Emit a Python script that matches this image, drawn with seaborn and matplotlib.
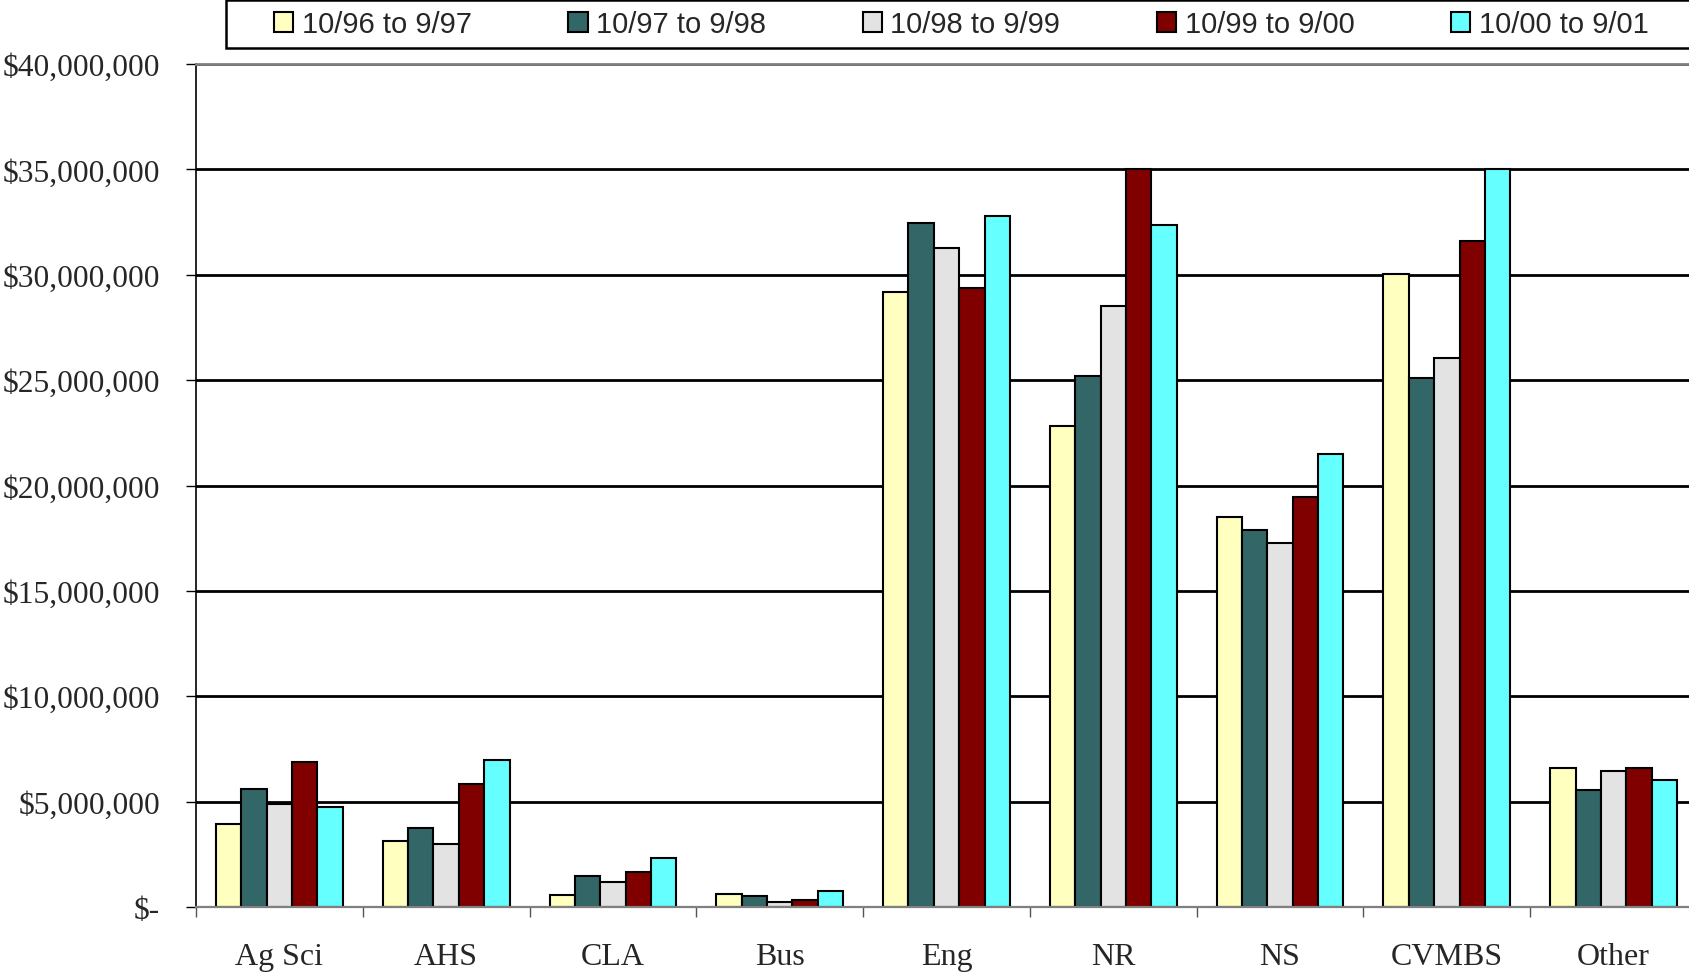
import seaborn as sns
import matplotlib.pyplot as plt
import matplotlib.ticker as mticker
from matplotlib.patches import Rectangle
import numpy as np
import pandas as pd

# colleges and fiscal periods
colleges = ['Ag Sci', 'AHS', 'CLA', 'Bus', 'Eng', 'NR', 'NS', 'CVMBS', 'Other']
periods = ['10/96 to 9/97', '10/97 to 9/98', '10/98 to 9/99', '10/99 to 9/00', '10/00 to 9/01']

# expenditures in millions
fy97 = [3.96, 3.12, 0.59, 0.62, 29.17, 22.84, 18.49, 30.04, 6.61]
fy98 = [5.62, 3.73, 1.46, 0.54, 32.44, 25.19, 17.88, 25.08, 5.55]
fy99 = [4.89, 2.97, 1.19, 0.25, 31.26, 28.50, 17.27, 26.05, 6.47]
fy00 = [6.87, 5.84, 1.65, 0.35, 29.37, 35.00, 19.46, 31.62, 6.58]
fy01 = [4.73, 6.99, 2.31, 0.76, 32.80, 32.34, 21.51, 35.00, 6.01]

colors = ['#FFFFC0', '#336666', '#E3E3E3', '#800000', '#66FFFF']

df = pd.DataFrame({'college': colleges * 5,
                   'period': np.repeat(periods, len(colleges)),
                   'amount': np.concatenate([fy97, fy98, fy99, fy00, fy01]) * 1e6})

sns.set_style('white')
plt.rcParams['font.family'] = ['Liberation Serif', 'DejaVu Serif']

W, H = 1690, 979
fig = plt.figure(figsize=(W / 100, H / 100), dpi=100)
ax = fig.add_axes([196 / W, 1 - 908 / H, (1697 - 196) / W, (908 - 65) / H])

sns.barplot(data=df, x='college', y='amount', hue='period', palette=colors,
            saturation=1, width=0.76, edgecolor='black', linewidth=1.5, ax=ax)

ax.set_xlim(-0.5, 8.5)
ax.set_ylim(0, 40e6)
ax.set_xlabel('')
ax.set_ylabel('')

def money(v, pos):
    if v == 0:
        return '$-'
    return '${:,.0f}'.format(v)

ax.yaxis.set_major_locator(mticker.MultipleLocator(5e6))
ax.yaxis.set_major_formatter(mticker.FuncFormatter(money))
ax.set_axisbelow(True)
ax.yaxis.grid(True, color='black', linewidth=2)
ax.xaxis.grid(False)

ax.tick_params(axis='y', which='major', direction='out', length=7, width=1,
               color='black', left=True, pad=19, labelsize=22.7)
ax.set_xticks(np.arange(-0.5, 9, 1), minor=True)
ax.tick_params(axis='x', which='minor', direction='out', length=7, width=1,
               color='#555555', bottom=True)
ax.tick_params(axis='x', which='major', length=0, pad=25, labelsize=23)

ax.spines['right'].set_visible(False)
ax.spines['top'].set_color('#808080')
ax.spines['top'].set_linewidth(2)
ax.spines['bottom'].set_color('#808080')
ax.spines['bottom'].set_linewidth(1.6)
ax.spines['left'].set_color('black')
ax.spines['left'].set_linewidth(1.2)

# legend box across the top
handles, labels = ax.get_legend_handles_labels()
ax.get_legend().remove()
fig.patches.append(Rectangle((226 / W, 1 - 49 / H), (1720 - 226) / W, 48 / H,
                             transform=fig.transFigure, facecolor='white',
                             edgecolor='black', linewidth=1.8))
leg = fig.legend(handles, labels, loc='center left', ncol=5,
                 bbox_to_anchor=(274 / W, 1 - 25 / H), frameon=False,
                 borderpad=0, borderaxespad=0, handlelength=0.66, handleheight=0.7,
                 handletextpad=0.3, columnspacing=3.3,
                 prop={'family': 'Liberation Sans', 'size': 21})

plt.savefig('out.png', dpi=100)
